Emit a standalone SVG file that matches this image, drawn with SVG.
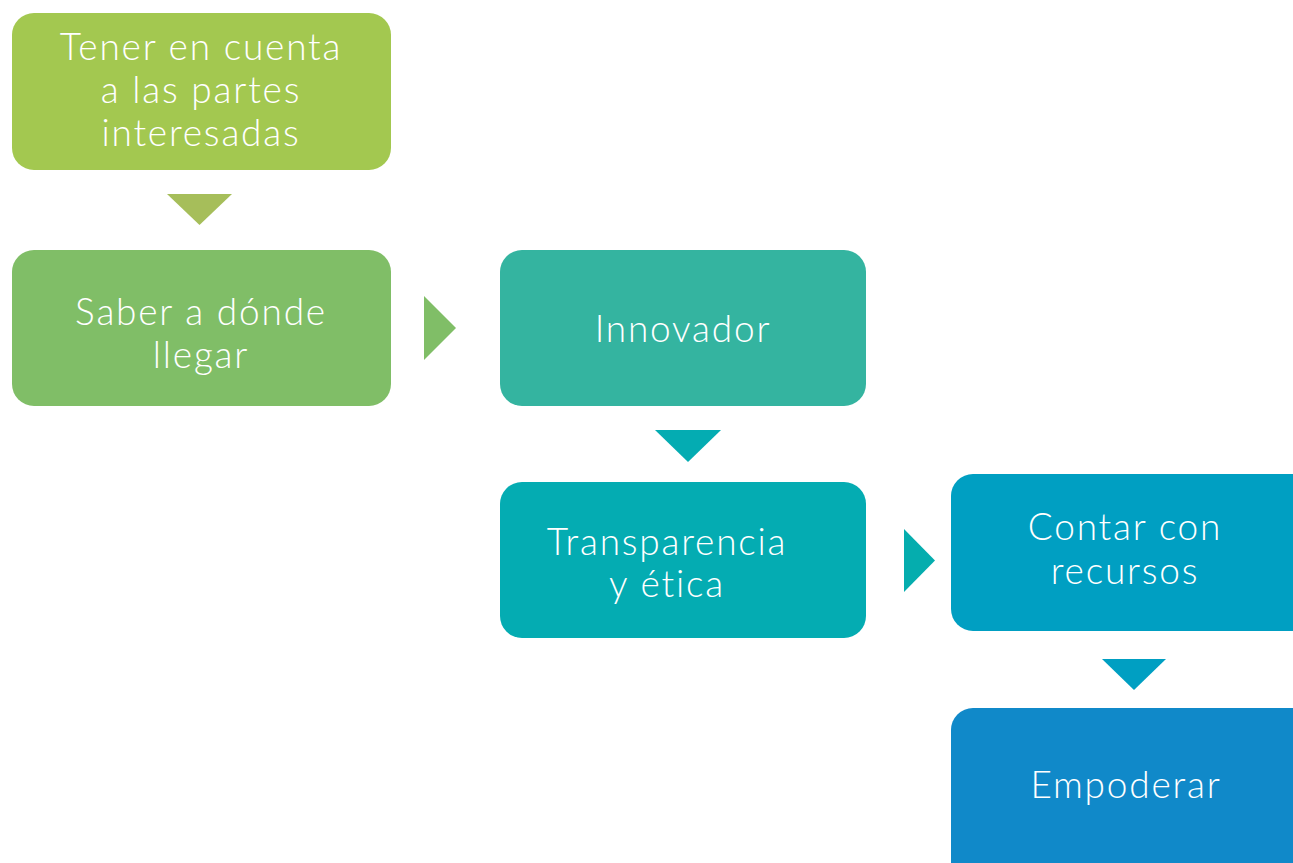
<svg xmlns="http://www.w3.org/2000/svg" width="1293" height="863" viewBox="0 0 1293 863">
<style>
text{font-family:Lato,"Open Sans","Liberation Sans",sans-serif;font-weight:300;font-size:37px;fill:#ffffff;text-anchor:middle;letter-spacing:1.8px}
</style>
<rect width="1293" height="863" fill="#ffffff"/>
<g id="connectors">
<polygon points="167,194 232,194 199.5,225" fill="#A6BE5A"/>
<polygon points="424,296 456,328 424,360" fill="#80BE67"/>
<polygon points="655,430 721,430 688,462" fill="#04ACB2"/>
<polygon points="904,529 935,560.5 904,592" fill="#05ADAE"/>
<polygon points="1102,659 1166,659 1134,690" fill="#009FC2"/>
</g>
<g id="n1">
<rect x="12" y="13" width="379" height="157" rx="22" fill="#A3C850"/>
<text x="201" y="60">Tener en cuenta</text>
<text x="201" y="103">a las partes</text>
<text x="201" y="146">interesadas</text>
</g>
<g id="n2">
<rect x="12" y="250" width="379" height="156" rx="22" fill="#80BE67"/>
<text x="201" y="325">Saber a dónde</text>
<text x="201" y="368">llegar</text>
</g>
<g id="n3">
<rect x="500" y="250" width="366" height="156" rx="22" fill="#34B4A0"/>
<text x="683" y="342">Innovador</text>
</g>
<g id="n4">
<rect x="500" y="482" width="366" height="156" rx="22" fill="#04ACB2"/>
<text x="667" y="555">Transparencia</text>
<text x="667" y="597">y ética</text>
</g>
<g id="n5">
<rect x="951" y="474" width="370" height="157" rx="22" fill="#009FC2"/>
<text x="1125" y="540">Contar con</text>
<text x="1125" y="584">recursos</text>
</g>
<g id="n6">
<rect x="951" y="708" width="370" height="180" rx="22" fill="#1089C9"/>
<text x="1126" y="798">Empoderar</text>
</g>
</svg>
